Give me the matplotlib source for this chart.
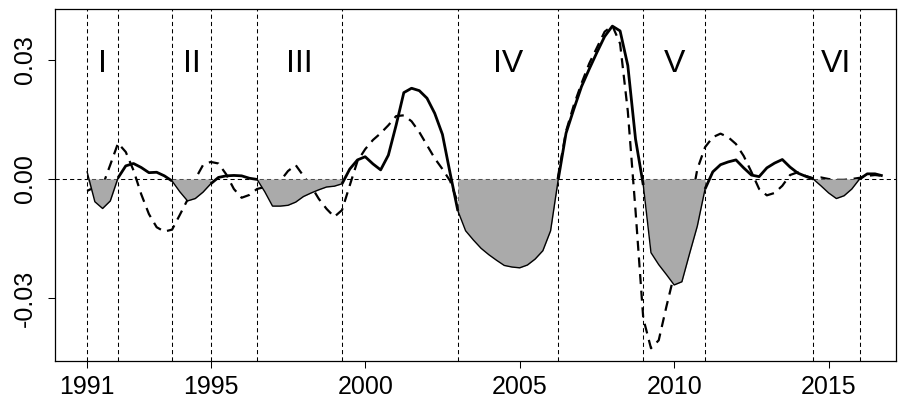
import numpy as np
import matplotlib
matplotlib.use("Agg")
import matplotlib.pyplot as plt
from matplotlib import font_manager

# ---------------- data (quarterly, 1991Q1 .. 2016Q4) ----------------
start_year = 1991.0
solid = [
    0.0018, -0.0057, -0.0074, -0.0055,   # 1991
    0.0003, 0.0033, 0.0039, 0.0029,      # 1992
    0.0016, 0.0017, 0.0008, -0.0005,     # 1993
    -0.0032, -0.0055, -0.0049, -0.0033,  # 1994
    -0.0012, 0.0004, 0.0008, 0.0009,     # 1995
    0.0008, 0.0002, -0.0001, -0.0032,    # 1996
    -0.0068, -0.0068, -0.0066, -0.0058,  # 1997
    -0.0044, -0.0035, -0.0027, -0.0020,  # 1998
    -0.0018, -0.0012, 0.0025, 0.0048,    # 1999
    0.0056, 0.0038, 0.0023, 0.0060,      # 2000
    0.0135, 0.0217, 0.0228, 0.0222,      # 2001
    0.0203, 0.0165, 0.0112, 0.0014,      # 2002
    -0.0080, -0.0130, -0.0153, -0.0174,  # 2003
    -0.0190, -0.0204, -0.0217, -0.0221,  # 2004
    -0.0223, -0.0216, -0.0201, -0.0180,  # 2005
    -0.0130, 0.0000, 0.0115, 0.0175,     # 2006
    0.0232, 0.0276, 0.0318, 0.0358,      # 2007
    0.0384, 0.0372, 0.0285, 0.0100,      # 2008
    -0.0015, -0.0185, -0.0215, -0.0240,  # 2009
    -0.0266, -0.0258, -0.0187, -0.0118,  # 2010
    -0.0025, 0.0018, 0.0036, 0.0043,     # 2011
    0.0048, 0.0028, 0.0010, 0.0006,      # 2012
    0.0028, 0.0040, 0.0049, 0.0030,      # 2013
    0.0015, 0.0007, 0.0000, -0.0017,     # 2014
    -0.0035, -0.0049, -0.0042, -0.0025,  # 2015
    0.0000, 0.0013, 0.0013, 0.0008,      # 2016
]
dashed = [
    -0.0030, -0.0020, -0.0017, 0.0036,   # 1991
    0.0090, 0.0068, 0.0022, -0.0038,     # 1992
    -0.0088, -0.0121, -0.0132, -0.0127,  # 1993
    -0.0090, -0.0052, 0.0000, 0.0035,    # 1994
    0.0043, 0.0039, 0.0012, -0.0025,     # 1995
    -0.0047, -0.0040, -0.0025, -0.0020,  # 1996
    -0.0015, -0.0005, 0.0020, 0.0035,    # 1997
    0.0008, -0.0018, -0.0050, -0.0075,   # 1998
    -0.0095, -0.0078, -0.0016, 0.0045,   # 1999
    0.0075, 0.0098, 0.0115, 0.0135,      # 2000
    0.0158, 0.0160, 0.0145, 0.0118,      # 2001
    0.0085, 0.0052, 0.0025, -0.0005,     # 2002
    -0.0060, -0.0110, -0.0140, -0.0160,  # 2003
    -0.0175, -0.0188, -0.0200, -0.0205,  # 2004
    -0.0205, -0.0198, -0.0183, -0.0160,  # 2005
    -0.0115, 0.0010, 0.0120, 0.0185,     # 2006
    0.0240, 0.0290, 0.0330, 0.0370,      # 2007
    0.0385, 0.0340, 0.0170, -0.0080,     # 2008
    -0.0350, -0.0425, -0.0405, -0.0320,  # 2009
    -0.0240, -0.0180, -0.0080, 0.0025,   # 2010
    0.0080, 0.0105, 0.0114, 0.0105,      # 2011
    0.0088, 0.0058, 0.0018, -0.0025,     # 2012
    -0.0041, -0.0035, -0.0017, 0.0010,   # 2013
    0.0017, 0.0008, 0.0002, 0.0004,      # 2014
    0.0000, -0.0002, -0.0002, 0.0000,    # 2015
    0.0003, 0.0008, 0.0010, 0.0008,      # 2016
]
period_starts = [1991.0, 1993.75, 1996.5, 2003.0, 2009.0, 2014.5]
period_ends = [1992.0, 1995.0, 1999.25, 2006.25, 2011.0, 2016.0]
period_labels = ["I", "II", "III", "IV", "V", "VI"]
xtick_values = [1991, 1995, 2000, 2005, 2010, 2015]
ytick_values = [-0.03, 0.0, 0.03]
ytick_labels = ["-0.03", "0.00", "0.03"]

# ---------------- fonts ----------------
names = {f.name for f in font_manager.fontManager.ttflist}
tick_family = "Liberation Sans Narrow" if "Liberation Sans Narrow" in names else "Liberation Sans"
label_family = "Liberation Sans"

# ---------------- figure ----------------
fig = plt.figure(figsize=(9.03, 4.03), dpi=100)
ax = fig.add_axes([55 / 903, 42 / 403, 841 / 903, 352 / 403])

t = start_year + np.arange(len(solid)) / 4.0
s = np.array(solid)
d = np.array(dashed)

# reference lines
ax.axhline(0, color="black", lw=0.75, ls=(0, (4, 3)), zorder=1)
for xv in period_starts + period_ends:
    ax.axvline(xv, color="black", lw=0.75, ls=(0, (4, 3)), zorder=1)

# dashed series
ax.plot(t, d, color="black", lw=1.6, ls=(0, (4.5, 3)), zorder=2)

# shaded periods with thin outline
eps = 1e-9
for a, b in zip(period_starts, period_ends):
    m = (t >= a - eps) & (t <= b + eps)
    ax.fill_between(t[m], np.minimum(s[m], 0), 0, color="#AAAAAA", lw=0, zorder=3)
    ax.plot(t[m], s[m], color="black", lw=1.0, zorder=4)

# thick solid line outside shaded periods
bounds = [t[0]] + [v for pair in zip(period_starts, period_ends) for v in pair] + [t[-1]]
# segments: between previous end and next start
seg_starts = [t[0]] + period_ends
seg_ends = period_starts + [t[-1]]
for a, b in zip(seg_starts, seg_ends):
    m = (t >= a - eps) & (t <= b + eps)
    if m.sum() >= 1:
        ax.plot(t[m], s[m], color="black", lw=2.0, zorder=5, solid_capstyle="butt")

# period labels
for a, b, lab in zip(period_starts, period_ends, period_labels):
    ax.text((a + b) / 2, 0.0269, lab, ha="center", va="baseline",
            fontsize=23, family=label_family, zorder=6)

ax.set_xlim(1989.96, 2017.18)
ax.set_ylim(-0.0457, 0.0427)

ax.set_xticks(xtick_values)
ax.set_xticklabels([str(v) for v in xtick_values], family=tick_family, fontsize=18)
ax.set_yticks(ytick_values)
ax.set_yticklabels(ytick_labels, family=tick_family, fontsize=18, rotation=90, va="center")
ax.tick_params(axis="both", direction="out", length=5, width=0.75)
ax.tick_params(axis="x", pad=5)
ax.tick_params(axis="y", pad=8)
for sp in ax.spines.values():
    sp.set_linewidth(0.9)

fig.savefig("out.png", dpi=100)
